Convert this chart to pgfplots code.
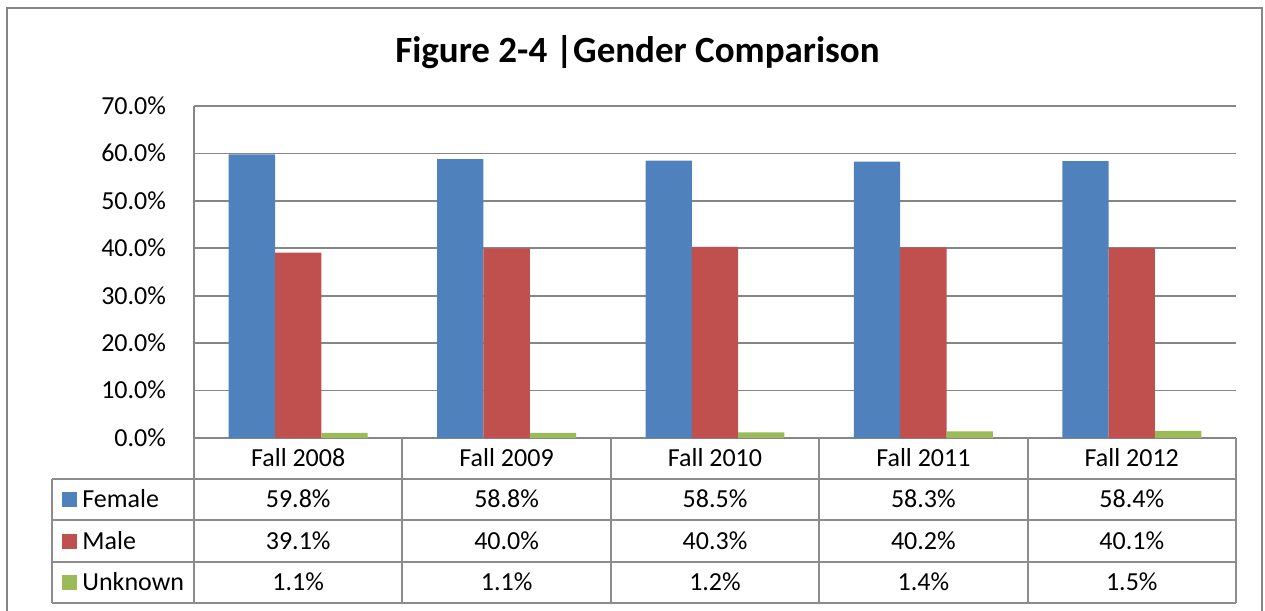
\documentclass[border=0pt]{standalone}
\usepackage{fontspec}
\setmainfont{Carlito}
\usepackage{pgfplots}
\usepackage{pgfplotstable}
\pgfplotsset{compat=1.18}
\definecolor{cblue}{HTML}{4F81BD}
\definecolor{cred}{HTML}{C0504D}
\definecolor{cgreen}{HTML}{9BBB59}
\definecolor{cgrid}{HTML}{868686}
\definecolor{cline}{HTML}{8C8C8C}
\pgfkeys{/pgf/number format/assume math mode=true}

\pgfplotstableread{
x female male unknown
0 59.8 39.1 1.1
1 58.8 40.0 1.1
2 58.5 40.3 1.2
3 58.3 40.2 1.4
4 58.4 40.1 1.5
}\gender

\begin{document}
\fontsize{13pt}{15pt}\selectfont
\begin{tikzpicture}
\path[use as bounding box] (0,0) rectangle (632.5pt,-305.5pt);
\begin{axis}[
  at={(97pt,-219pt)}, anchor=south west,
  scale only axis, width=521pt, height=166pt,
  xmin=-0.5, xmax=4.5, ymin=0, ymax=70,
  ytick={0,10,...,70},
  yticklabel={\pgfmathprintnumber[fixed,fixed zerofill,precision=1]{\tick}\%},
  xtick={0,1,2,3,4},
  xticklabels={Fall 2008,Fall 2009,Fall 2010,Fall 2011,Fall 2012},
  axis x line*=bottom, axis y line*=left,
  axis line style={cgrid, line width=1pt},
  major tick length=0pt,
  ymajorgrids, grid style={cgrid, line width=0.9pt},
  ticklabel style={font=\fontsize{13pt}{15pt}\selectfont, text height=0.64em, text depth=0pt},
  yticklabel style={anchor=east, xshift=-9.5pt},
  xticklabel style={anchor=center, yshift=-10.25pt},
  clip=false,
]
\addplot[ybar, bar width=0.2222, bar shift=-0.2222, fill=cblue, draw=none] table[x=x,y=female]{\gender};
\addplot[ybar, bar width=0.2222, bar shift=0, fill=cred, draw=none] table[x=x,y=male]{\gender};
\addplot[ybar, bar width=0.2222, bar shift=0.2222, fill=cgreen, draw=none] table[x=x,y=unknown]{\gender};
\end{axis}
\begin{scope}[x=0.5pt,y=-0.5pt]
  % outer frame
  \draw[cgrid, line width=1pt] (7,620) -- (7,7.5) -- (1262,7.5) -- (1262,620);
  % title
  \node[font=\bfseries\fontsize{18.5pt}{22pt}\selectfont] at (637.5,52) {Figure 2-4 |Gender Comparison};
  % table grid
  \foreach \k in {0,...,5} {
    \draw[cline, line width=1pt] ({194+208.4*\k},438) -- ({194+208.4*\k},603);
  }
  \draw[cline, line width=1pt] (52,479) -- (52,603);
  \foreach \yy in {479,520,561.5,603} {
    \draw[cline, line width=1pt] (52,\yy) -- (1236,\yy);
  }
  % legend keys
  \foreach \col/\lab/\row in {cblue/Female/0, cred/Male/1, cgreen/Unknown/2} {
    \fill[\col] (62,{492+41.5*\row}) rectangle (77,{507+41.5*\row});
    \node[anchor=west, inner sep=0pt, text height=0.64em, text depth=0pt] at (82,{499.5+41.5*\row}) {\lab};
  }
  % table values
  \foreach \r in {0,...,4} {
    \foreach \c/\row in {female/0, male/1, unknown/2} {
      \pgfplotstablegetelem{\r}{\c}\of\gender
      \node[text height=0.64em, text depth=0pt] at ({298.2+208.4*\r},{499.5+41.5*\row}) {\pgfmathprintnumber[fixed,fixed zerofill,precision=1]{\pgfplotsretval}\%};
    }
  }
\end{scope}
\end{tikzpicture}
\end{document}
